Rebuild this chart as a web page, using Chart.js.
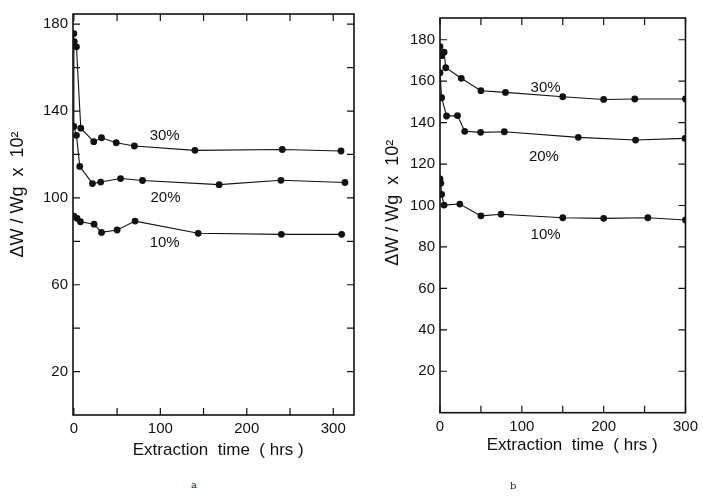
<!DOCTYPE html>
<html>
<head>
<meta charset="utf-8">
<script src="https://cdn.jsdelivr.net/npm/chart.js@4/dist/chart.umd.min.js"></script>
<style>
  html, body { margin: 0; padding: 0; background: #fff; }
  #wrap { position: relative; width: 703px; height: 496px; background: #fff; overflow: hidden; }
  canvas { position: absolute; top: 0; }
  .cap { position: absolute; font-family: "DejaVu Serif", "Liberation Serif", serif; font-size: 10px; color: #222; }
</style>
</head>
<body>
<div id="wrap">
  <canvas id="ca" width="360" height="470" style="left:0px"></canvas>
  <canvas id="cb" width="348" height="470" style="left:355px"></canvas>
  <div class="cap" style="left:191px;top:479px">a</div>
  <div class="cap" style="left:510px;top:480px">b</div>
</div>
<script>
// ---------- Panel a data ----------
const a30t = [0.5, 3, 8, 23, 32, 49, 70, 140, 241, 309];
const a30v = [172, 169.6, 132.1, 125.9, 127.7, 125.4, 123.9, 121.9, 122.3, 121.6];
const a20t = [0, 0, 3, 6.8, 21.5, 31, 54, 79.4, 168, 239.5, 313.5];
const a20v = [175.7, 132.9, 128.8, 114.5, 106.6, 107.3, 108.9, 108, 106.1, 108.1, 107.1];
const a10t = [0, 3.7, 7.6, 23.4, 32, 50, 70.8, 143.8, 240, 309.7];
const a10v = [91.6, 90.6, 89, 87.9, 84.1, 85.2, 89.3, 83.7, 83.2, 83.2];

// ---------- Panel b data ----------
const b30t = [0, 2, 5, 7, 26, 50, 80, 150, 200, 238, 300];
const b30v = [176.7, 172.3, 174, 166.5, 161.4, 155.4, 154.6, 152.5, 151.2, 151.4, 151.4];
const b20t = [0, 2, 8, 21.4, 30.2, 49.6, 78.6, 169, 239, 299.5];
const b20v = [164.1, 152, 143.2, 143.4, 135.8, 135.3, 135.6, 132.9, 131.6, 132.4];
const b10t = [0, 1, 2, 5, 24.2, 50, 74.6, 150, 200, 254, 300];
const b10v = [112.8, 110.7, 105.4, 100.2, 100.7, 95, 95.8, 94.1, 93.8, 94.1, 93];

// ---------- Series labels ----------
const seriesNames = ['30%', '20%', '10%'];
const aLabelT = [105, 106, 105];
const aLabelV = [128.8, 100.2, 79.1];
const bLabelT = [129, 127, 129];
const bLabelV = [157, 123.5, 85.7];

// ---------- Ticks ----------
const aXTicks = [0, 50, 100, 150, 200, 250, 300];
const aXLabels = [0, 100, 200, 300];
const aYTicks = [20, 40, 60, 80, 100, 120, 140, 160, 180];
const aYLabels = [20, 60, 100, 140, 180];
const bXTicks = [0, 50, 100, 150, 200, 250, 300];
const bXLabels = [0, 100, 200, 300];
const bYTicks = [20, 40, 60, 80, 100, 120, 140, 160, 180];
const bYLabels = [20, 40, 60, 80, 100, 120, 140, 160, 180];

const yTitle = 'ΔW / Wg  x  10²';
const xTitle = 'Extraction  time  ( hrs )';

function pts(t, v) { return t.map((x, i) => ({ x: x, y: v[i] })); }

function ds(t, v) {
  return {
    data: pts(t, v),
    showLine: true,
    borderColor: '#111',
    borderWidth: 1.1,
    pointRadius: 3.4,
    pointBackgroundColor: '#111',
    pointBorderColor: '#111',
    pointBorderWidth: 0,
    tension: 0
  };
}

const framePlugin = {
  id: 'frame',
  afterDatasetsDraw(chart, args, opts) {
    const { ctx, chartArea: ca } = chart;
    const xs = chart.scales.x, ys = chart.scales.y;
    ctx.save();
    ctx.strokeStyle = '#111';
    ctx.lineWidth = 1.6;
    ctx.strokeRect(ca.left, ca.top, ca.right - ca.left, ca.bottom - ca.top);
    ctx.lineWidth = 1.2;
    const L = 7;
    ctx.beginPath();
    opts.xTicks.forEach(v => {
      const p = xs.getPixelForValue(v);
      ctx.moveTo(p, ca.bottom); ctx.lineTo(p, ca.bottom - L);
      ctx.moveTo(p, ca.top); ctx.lineTo(p, ca.top + L);
    });
    opts.yTicks.forEach(v => {
      const p = ys.getPixelForValue(v);
      ctx.moveTo(ca.left, p); ctx.lineTo(ca.left + L, p);
      ctx.moveTo(ca.right, p); ctx.lineTo(ca.right - L, p);
    });
    ctx.stroke();
    // series labels
    ctx.fillStyle = '#111';
    ctx.font = '15px "Liberation Sans", Arial, sans-serif';
    ctx.textAlign = 'center';
    ctx.textBaseline = 'middle';
    opts.names.forEach((n, i) => {
      ctx.fillText(n, xs.getPixelForValue(opts.lt[i]), ys.getPixelForValue(opts.lv[i]));
    });
    ctx.restore();
  }
};

function makeChart(id, sets, cfg) {
  return new Chart(document.getElementById(id), {
    type: 'scatter',
    data: { datasets: sets },
    plugins: [framePlugin],
    options: {
      responsive: false,
      animation: false,
      events: [],
      layout: { padding: cfg.padding },
      plugins: {
        legend: { display: false },
        tooltip: { enabled: false },
        frame: { xTicks: cfg.xTicks, yTicks: cfg.yTicks, names: seriesNames, lt: cfg.lt, lv: cfg.lv }
      },
      scales: {
        x: {
          type: 'linear',
          min: cfg.xMin, max: cfg.xMax,
          grid: { display: false, drawTicks: false },
          border: { display: false },
          afterBuildTicks: s => { s.ticks = cfg.xTicks.map(v => ({ value: v })); },
          afterFit: s => { s.height = cfg.xH; },
          ticks: {
            autoSkip: false, maxRotation: 0, padding: 5, color: '#111',
            font: { family: '"Liberation Sans", Arial, sans-serif', size: 15 },
            callback: v => cfg.xLabels.includes(v) ? String(v) : ''
          },
          title: {
            display: true, text: cfg.xTitleText, color: '#111',
            font: { family: '"Liberation Sans", Arial, sans-serif', size: 17 },
            padding: { top: 0, bottom: cfg.xTitlePad }
          }
        },
        y: {
          type: 'linear',
          min: cfg.yMin, max: cfg.yMax,
          grid: { display: false, drawTicks: false },
          border: { display: false },
          afterBuildTicks: s => { s.ticks = cfg.yTicks.map(v => ({ value: v })); },
          afterFit: s => { s.width = cfg.yW; },
          ticks: {
            autoSkip: false, padding: 5, color: '#111',
            font: { family: '"Liberation Sans", Arial, sans-serif', size: 15 },
            callback: v => cfg.yLabels.includes(v) ? String(v) : ''
          },
          title: {
            display: true, text: cfg.yTitleText, color: '#111',
            font: { family: '"Liberation Sans", Arial, sans-serif', size: 18 },
            padding: { top: cfg.yTitlePad, bottom: 0 }
          }
        }
      }
    }
  });
}

makeChart('ca', [ds(a30t, a30v), ds(a20t, a20v), ds(a10t, a10v)], {
  padding: { left: 0, right: 6, top: 13, bottom: 0 },
  xMin: -1, xMax: 324, yMin: 0, yMax: 184.7,
  xTicks: aXTicks, xLabels: aXLabels, yTicks: aYTicks, yLabels: aYLabels,
  xH: 55, yW: 73, xTitlePad: 9, yTitlePad: 7,
  yTitleText: '\u00a0\u00a0\u00a0\u00a0\u00a0\u00a0\u00a0\u00a0' + yTitle,
  xTitleText: '\u00a0\u00a0' + xTitle,
  lt: aLabelT, lv: aLabelV
});

makeChart('cb', [ds(b30t, b30v), ds(b20t, b20v), ds(b10t, b10v)], {
  padding: { left: 0, right: 15, top: 18, bottom: 0 },
  xMin: 0, xMax: 300, yMin: 0, yMax: 190.5,
  xTicks: bXTicks, xLabels: bXLabels, yTicks: bYTicks, yLabels: bYLabels,
  xH: 57.3, yW: 85, xTitlePad: 14, yTitlePad: 27,
  yTitleText: '\u00a0\u00a0\u00a0\u00a0\u00a0' + yTitle,
  xTitleText: '\u00a0\u00a0\u00a0\u00a0' + xTitle,
  lt: bLabelT, lv: bLabelV
});
</script>
</body>
</html>
